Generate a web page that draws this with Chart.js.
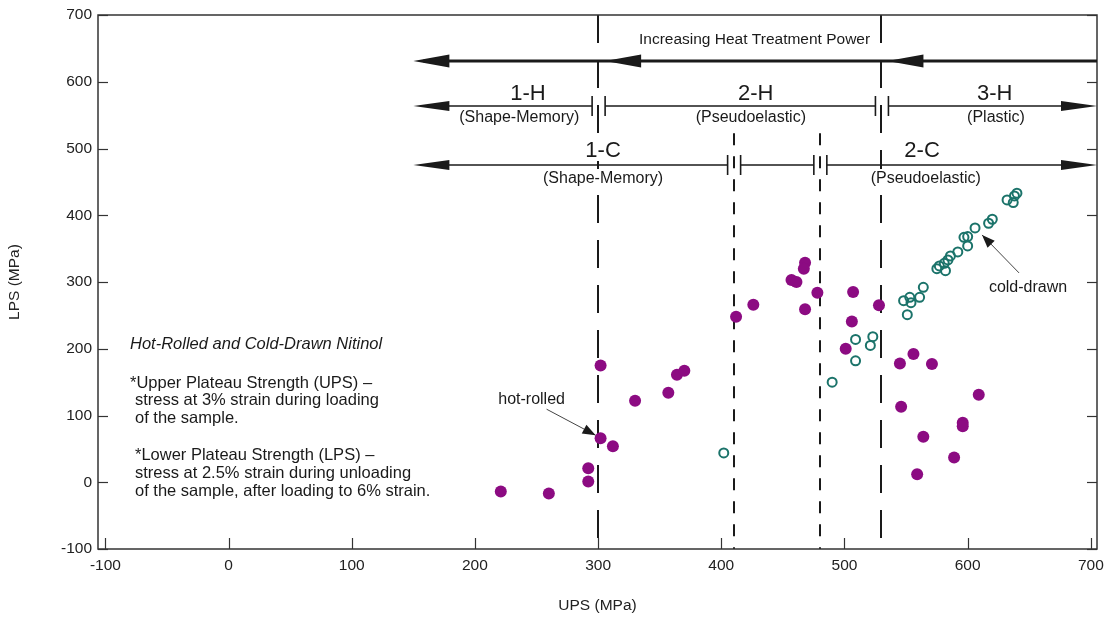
<!DOCTYPE html>
<html>
<head>
<meta charset="utf-8">
<title>Nitinol UPS vs LPS</title>
<script src="https://cdn.jsdelivr.net/npm/chart.js@4.4.0/dist/chart.umd.min.js"></script>
<style>
  html, body { margin: 0; padding: 0; background: #fff; }
  #wrap { width: 1104px; height: 618px; }
</style>
</head>
<body>
<div id="wrap"><canvas id="nitinolChart" width="1104" height="618"></canvas></div>
<script>
// upper / lower plateau strength pairs, MPa
const hotRolledUps = [221, 260, 292, 292, 302, 302, 312, 330, 357, 364, 370, 412, 426, 457, 461, 468, 467, 468, 478,
  507, 506, 501, 528, 545, 556, 571, 546, 609, 596, 596, 564, 589, 559];
const hotRolledLps = [-14, -17, 21, 1, 175, 66, 54, 122, 134, 161, 167, 248, 266, 303, 300, 329, 320, 259, 284,
  285, 241, 200, 265, 178, 192, 177, 113, 131, 89, 84, 68, 37, 12];

const coldDrawnUps = [402, 490, 509, 509, 523, 521, 548, 553, 554, 551, 561, 564, 575, 577, 582, 581, 584, 586,
  592, 597, 600, 600, 606, 617, 620, 632, 637, 638, 640];
const coldDrawnLps = [44, 150, 214, 182, 218, 205, 272, 277, 269, 251, 277, 292, 320, 324, 317, 328, 333, 339,
  345, 367, 368, 354, 381, 388, 394, 423, 419, 429, 433];

const xTicks = [-100, 0, 100, 200, 300, 400, 500, 600, 700];
const yTicks = [-100, 0, 100, 200, 300, 400, 500, 600, 700];

// heat-treatment region boundaries on the UPS axis
const hotBounds = [300, 530];
const coldBounds = [410, 480];

const FONT = '"Liberation Sans", Arial, sans-serif';
const INK = '#1a1a1a';
const PURPLE = '#8c0b82';
const TEAL = '#1b736a';

const toPts = (xs, ys) => xs.map((v, i) => ({ x: v, y: ys[i] }));

function head(ctx, tx, ty, ang, len, half) {
  ctx.beginPath();
  ctx.moveTo(tx, ty);
  ctx.lineTo(tx - len * Math.cos(ang) + half * Math.sin(ang), ty - len * Math.sin(ang) - half * Math.cos(ang));
  ctx.lineTo(tx - len * Math.cos(ang) - half * Math.sin(ang), ty - len * Math.sin(ang) + half * Math.cos(ang));
  ctx.closePath();
  ctx.fill();
}

function seg(ctx, x1, y1, x2, y2) {
  ctx.beginPath();
  ctx.moveTo(x1, y1);
  ctx.lineTo(x2, y2);
  ctx.stroke();
}

function label(ctx, text, x, y, font, clear) {
  ctx.font = font;
  if (clear) {
    const w = ctx.measureText(text).width;
    ctx.fillStyle = '#fff';
    ctx.fillRect(x - w / 2 - 2, y - 10, w + 4, 20);
  }
  ctx.fillStyle = INK;
  ctx.textAlign = 'center';
  ctx.textBaseline = 'middle';
  ctx.fillText(text, x, y);
}

// dashed region boundaries, drawn under the points
const boundaryLines = {
  id: 'boundaryLines',
  beforeDatasetsDraw(chart) {
    const { ctx, chartArea: a, scales: { x, y } } = chart;
    ctx.save();
    ctx.strokeStyle = INK;
    ctx.lineWidth = 2;
    ctx.setLineDash([28, 17]);
    hotBounds.forEach(v => {
      const px = Math.round(x.getPixelForValue(v));
      seg(ctx, px, a.top, px, a.bottom);
    });
    ctx.setLineDash([12, 11]);
    coldBounds.forEach(v => {
      const px = Math.round(x.getPixelForValue(v));
      seg(ctx, px, y.getPixelForValue(523), px, a.bottom);
    });
    ctx.restore();
  }
};

// frame, inward ticks, region arrows and notes
const annotations = {
  id: 'annotations',
  afterDraw(chart) {
    const { ctx, chartArea: a, scales: { x, y } } = chart;
    ctx.save();

    // frame and inward ticks
    ctx.strokeStyle = '#333';
    ctx.lineWidth = 1.5;
    ctx.strokeRect(a.left, a.top, a.right - a.left, a.bottom - a.top);
    ctx.lineWidth = 1.2;
    xTicks.forEach(v => {
      const px = Math.round(x.getPixelForValue(v)) + 0.5;
      seg(ctx, px, a.bottom, px, a.bottom - 11);
    });
    yTicks.forEach(v => {
      const py = Math.round(y.getPixelForValue(v)) + 0.5;
      seg(ctx, a.left, py, a.left + 10, py);
      seg(ctx, a.right, py, a.right - 10, py);
    });

    const left = x.getPixelForValue(150);
    const b0 = x.getPixelForValue(hotBounds[0]);
    const b1 = x.getPixelForValue(hotBounds[1]);
    const c0 = x.getPixelForValue(coldBounds[0]);
    const c1 = x.getPixelForValue(coldBounds[1]);

    ctx.strokeStyle = INK;
    ctx.fillStyle = INK;

    // heat treatment power arrow
    const rA = Math.round(y.getPixelForValue(631));
    ctx.lineWidth = 2.8;
    seg(ctx, left + 10, rA, a.right, rA);
    [left, b0 + 7, b1 + 6].forEach(px => head(ctx, px, rA, Math.PI, 36, 6.5));
    label(ctx, 'Increasing Heat Treatment Power', x.getPixelForValue(427), rA - 21, '15.5px ' + FONT, false);

    // hot-rolled and cold-drawn condition rows with break marks
    const row = (py, breaks) => {
      ctx.lineWidth = 1.4;
      let from = left + 10;
      breaks.forEach(bx => {
        seg(ctx, from, py, bx - 6, py);
        from = bx + 7;
      });
      seg(ctx, from, py, a.right - 10, py);
      head(ctx, left, py, Math.PI, 36, 5);
      head(ctx, a.right, py, 0, 36, 5);
      ctx.lineWidth = 1.6;
      breaks.forEach(bx => {
        seg(ctx, bx - 6, py - 10, bx - 6, py + 10);
        seg(ctx, bx + 7, py - 10, bx + 7, py + 10);
      });
    };
    const rB = Math.round(y.getPixelForValue(564));
    const rC = Math.round(y.getPixelForValue(475));
    row(rB, [b0, b1]);
    row(rC, [c0, c1]);

    const big = '22px ' + FONT;
    const small = '16px ' + FONT;
    label(ctx, '1-H', x.getPixelForValue(243), rB - 12, big, false);
    label(ctx, '(Shape-Memory)', x.getPixelForValue(236), rB + 12, small, false);
    label(ctx, '2-H', x.getPixelForValue(428), rB - 12, big, false);
    label(ctx, '(Pseudoelastic)', x.getPixelForValue(424), rB + 12, small, false);
    label(ctx, '3-H', x.getPixelForValue(622), rB - 12, big, false);
    label(ctx, '(Plastic)', x.getPixelForValue(623), rB + 12, small, false);
    label(ctx, '1-C', x.getPixelForValue(304), rC - 14, big, true);
    label(ctx, '(Shape-Memory)', x.getPixelForValue(304), rC + 14, small, true);
    label(ctx, '2-C', x.getPixelForValue(563), rC - 14, big, true);
    label(ctx, '(Pseudoelastic)', x.getPixelForValue(566), rC + 14, small, true);

    // pointers to the two families
    ctx.lineWidth = 1;
    ctx.strokeStyle = '#444';
    const hx = x.getPixelForValue(302) - 5, hy = y.getPixelForValue(66) - 3;
    seg(ctx, hx - 49, hy - 26, hx, hy);
    head(ctx, hx, hy, Math.atan2(26, 49), 13, 5);
    label(ctx, 'hot-rolled', hx - 64, hy - 36, '16px ' + FONT, false);

    const cx = x.getPixelForValue(606) + 7, cy = y.getPixelForValue(381) + 7;
    seg(ctx, cx + 37, cy + 38, cx, cy);
    head(ctx, cx, cy, Math.atan2(-38, -37), 13, 5);
    label(ctx, 'cold-drawn', cx + 46, cy + 53, '16px ' + FONT, false);

    // definitions
    ctx.fillStyle = INK;
    ctx.textAlign = 'left';
    ctx.textBaseline = 'middle';
    ctx.font = 'italic 16.5px ' + FONT;
    ctx.fillText('Hot-Rolled and Cold-Drawn Nitinol', 130, 344);
    ctx.font = '16.5px ' + FONT;
    ctx.fillText('*Upper Plateau Strength (UPS) \u2013', 130, 383);
    ctx.fillText('stress at 3% strain during loading', 135, 400);
    ctx.fillText('of the sample.', 135, 418);
    ctx.fillText('*Lower Plateau Strength (LPS) \u2013', 135, 455);
    ctx.fillText('stress at 2.5% strain during unloading', 135, 473);
    ctx.fillText('of the sample, after loading to 6% strain.', 135, 491);

    ctx.restore();
  }
};

new Chart(document.getElementById('nitinolChart'), {
  type: 'scatter',
  data: {
    datasets: [
      {
        label: 'hot-rolled',
        data: toPts(hotRolledUps, hotRolledLps),
        backgroundColor: PURPLE,
        borderWidth: 0,
        pointRadius: 6,
        pointHoverRadius: 6
      },
      {
        label: 'cold-drawn',
        data: toPts(coldDrawnUps, coldDrawnLps),
        backgroundColor: 'rgba(255,255,255,0)',
        borderColor: TEAL,
        borderWidth: 2,
        pointRadius: 4.5,
        pointHoverRadius: 4.5
      }
    ]
  },
  options: {
    responsive: false,
    animation: false,
    devicePixelRatio: 1,
    layout: { padding: { top: 15, right: 7, left: 0, bottom: 0 } },
    plugins: {
      legend: { display: false },
      tooltip: { enabled: false }
    },
    scales: {
      x: {
        type: 'linear',
        min: -106,
        max: 705,
        afterBuildTicks: s => { s.ticks = xTicks.map(v => ({ value: v })); },
        afterFit: s => {
          s.height = 69;
          s.paddingLeft = 0;
          s.paddingRight = 0;
        },
        grid: { display: true, drawOnChartArea: false, drawTicks: false },
        border: { display: false },
        ticks: { padding: 7, color: '#222', font: { family: FONT, size: 15.5 } },
        title: {
          display: true,
          text: 'UPS (MPa)',
          color: '#222',
          padding: { top: 0, bottom: 3 },
          font: { family: FONT, size: 15.5 }
        }
      },
      y: {
        type: 'linear',
        min: -100,
        max: 700,
        afterBuildTicks: s => { s.ticks = yTicks.map(v => ({ value: v })); },
        afterFit: s => {
          s.width = 98;
          s.paddingTop = 0;
          s.paddingBottom = 0;
        },
        grid: { display: true, drawOnChartArea: false, drawTicks: false },
        border: { display: false },
        ticks: { padding: 6, color: '#222', font: { family: FONT, size: 15.5 } },
        title: {
          display: true,
          text: 'LPS (MPa)',
          color: '#222',
          padding: { top: 5, bottom: 0 },
          font: { family: FONT, size: 15.5 }
        }
      }
    }
  },
  plugins: [boundaryLines, annotations]
});
</script>
</body>
</html>
